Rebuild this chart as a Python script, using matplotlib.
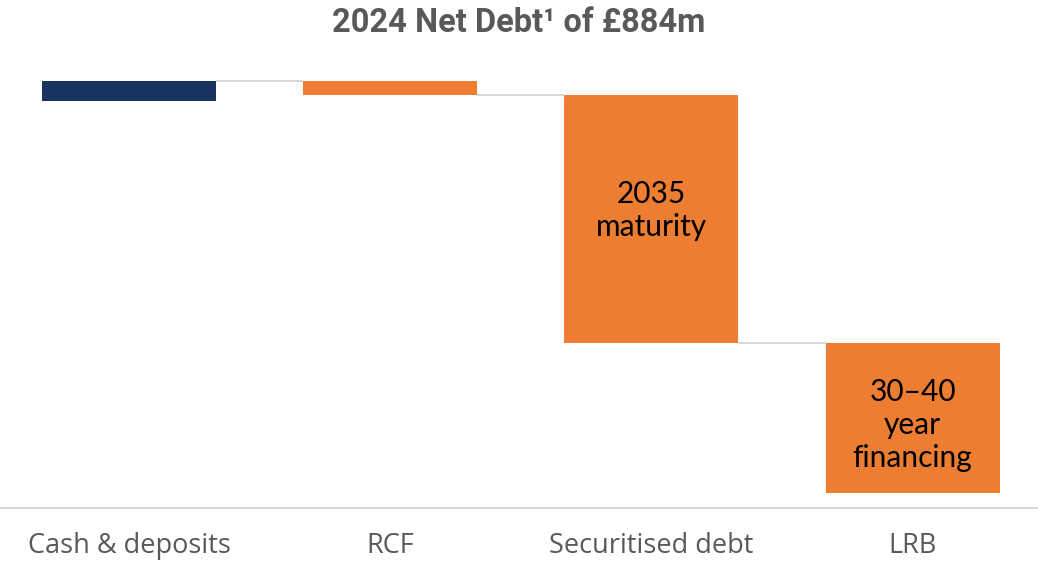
import matplotlib
matplotlib.use("Agg")
import matplotlib.pyplot as plt

# Net debt build-up, £m
categories = ["Cash & deposits", "RCF", "Securitised debt", "LRB"]
amounts = [46, 32, 560, 338]          # absolute size of each component
bar_labels = ["", "", "2035\nmaturity", "30\u201340\nyear\nfinancing"]
title = "2024 Net Debt\u00b9 of £884m"

NAVY = "#1a3260"
ORANGE = "#ed7d31"
GREY_LINE = "#d9d9d9"
TEXT_GREY = "#595959"

W, H, DPI = 1038, 565, 100
fig = plt.figure(figsize=(W / DPI, H / DPI), dpi=DPI)

# axes placed in pixel terms
top_px, axis_px, zero_px, end_px = 60, 508, 81, 493
ax = fig.add_axes([0, 1 - axis_px / H, 1, (axis_px - top_px) / H])

# waterfall: cash sits on its own from zero, debt items stack downwards
starts = [0.0]
running = 0.0
for a in amounts[1:]:
    starts.append(running)
    running += a
colors = [NAVY] + [ORANGE] * (len(amounts) - 1)

x = list(range(len(categories)))
width = 0.666
ax.bar(x, amounts, bottom=starts, width=width, color=colors, zorder=3)

# connectors between neighbouring bars
levels = [0.0] + [starts[i] + amounts[i] for i in range(1, len(amounts) - 1)]
for i in range(len(categories) - 1):
    ax.plot([x[i] + width / 2, x[i + 1] - width / 2], [levels[i], levels[i]],
            color=GREY_LINE, lw=1.5, zorder=2, clip_on=False,
            solid_capstyle="butt")

# scale: 0 at zero_px, running total at end_px
px_per_unit = (end_px - zero_px) / running

# labels inside bars, last baseline a fixed distance below the bar top
last_baseline_px = {2: 141, 3: 124}
for i, lab in enumerate(bar_labels):
    if not lab:
        continue
    y = starts[i] + last_baseline_px[i] / px_per_unit
    ax.text(x[i], y, lab, ha="center", va="baseline", fontsize=21.5,
            family="Lato", color="black", linespacing=1.22, zorder=4)

ax.set_ylim((axis_px - zero_px) / px_per_unit, -(zero_px - top_px) / px_per_unit)
spacing = 261.2
ax.set_xlim(-129 / spacing, (W - 129) / spacing)

for s in ["top", "left", "right"]:
    ax.spines[s].set_visible(False)
ax.spines["bottom"].set_color(GREY_LINE)
ax.spines["bottom"].set_linewidth(1.6)
ax.set_yticks([])
ax.set_xticks(x)
ax.set_xticklabels(categories, fontsize=19.5, family="Open Sans", color=TEXT_GREY)
ax.tick_params(axis="x", length=0, pad=17.5)

fig.text(519 / W, 1 - 32 / H, title, ha="center", va="baseline",
         fontsize=23.5, fontweight="bold", family="Roboto", color=TEXT_GREY)

fig.savefig("out.png", dpi=DPI)
